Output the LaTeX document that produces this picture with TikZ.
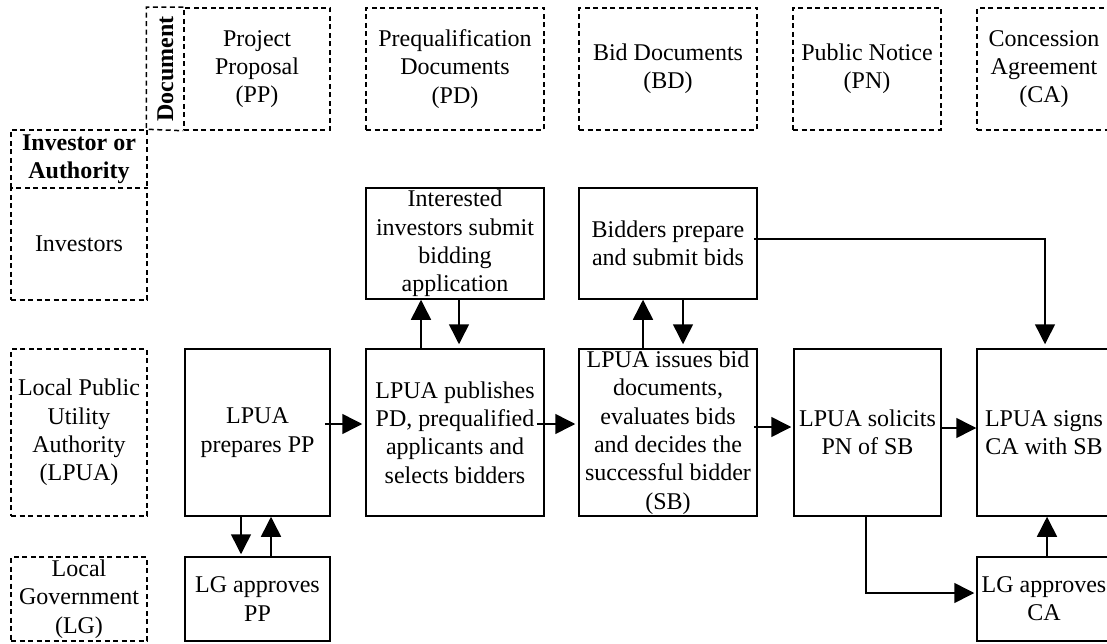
\documentclass[tikz,border=0pt]{standalone}
\usepackage{fontspec}
\setmainfont{Liberation Serif}
\usetikzlibrary{arrows.meta}

\tikzset{
  txt/.style={font=\fontsize{24}{28.3}\selectfont, align=center, inner sep=0pt},
  dashline/.style={line width=1.5pt, dash pattern=on 5pt off 3.5pt},
  hdr/.style={txt, draw, dashline},
  stepbox/.style={txt, draw, line width=1.5pt},
  arr/.style={line width=1.5pt, -{Triangle[length=20pt,width=20pt]}},
}

\begin{document}
\begin{tikzpicture}[x=1pt,y=-1pt]
  \clip (0,0) rectangle (1107,644);

  % column headers: documents
  \node[hdr, minimum width=146pt, minimum height=122pt] (hpp) at (257,69) {Project\\Proposal\\(PP)};
  \node[txt, rotate=90, font=\fontsize{24}{28.3}\selectfont\bfseries] (hdoc) at (165.5,69) {Document};
  \draw[dashline] (hpp.north west) -- ++(-37,0) -- ++(0,122) -- (hpp.south west);
  \node[hdr, minimum width=178pt, minimum height=122pt] (hpd) at (455,69) {Prequalification\\Documents\\(PD)};
  \node[hdr, minimum width=178pt, minimum height=122pt] (hbd) at (668,69) {Bid Documents\\(BD)};
  \node[hdr, minimum width=148pt, minimum height=122pt] (hpn) at (867,69) {Public Notice\\(PN)};
  \node[hdr, minimum width=134pt, minimum height=122pt] (hca) at (1044,69) {Concession\\Agreement\\(CA)};

  % row headers: actors
  \node[hdr, minimum width=136pt, minimum height=112pt] (rinv) at (79,244) {Investors};
  \node[txt, minimum width=136pt, minimum height=58pt,
        font=\fontsize{24}{28.3}\selectfont\bfseries] (hactor) at (79,159) {Investor or\\Authority};
  \draw[dashline] (hactor.south west) -- (hactor.north west) -- (hactor.north east) -- (hactor.south east);
  \node[hdr, minimum width=136pt, minimum height=167pt] (rlpua) at (79,432.5) {Local Public\\Utility\\Authority\\(LPUA)};
  \node[hdr, minimum width=136pt, minimum height=84pt] (rlg) at (79,599) {Local\\Government\\(LG)};

  % process steps
  \node[stepbox, minimum width=178pt, minimum height=111pt] (interest) at (455,243.5) {Interested\\investors submit\\bidding\\application};
  \node[stepbox, minimum width=178pt, minimum height=111pt] (bidders) at (668,243.5) {Bidders prepare\\and submit bids};
  \node[stepbox, minimum width=145pt, minimum height=167pt] (prep) at (257.5,432.5) {LPUA\\prepares PP};
  \node[stepbox, minimum width=178pt, minimum height=167pt] (publ) at (455,432.5) {LPUA publishes\\PD, prequalified\\applicants and\\selects bidders};
  \node[stepbox, minimum width=178pt, minimum height=167pt] (issue) at (668,432.5) {LPUA issues bid\\documents,\\evaluates bids\\and decides the\\successful bidder\\(SB)};
  \node[stepbox, minimum width=147pt, minimum height=167pt] (sol) at (867.5,432.5) {LPUA solicits\\PN of SB};
  \node[stepbox, minimum width=134pt, minimum height=167pt] (sign) at (1044,432.5) {LPUA signs\\CA with SB};
  \node[stepbox, minimum width=145pt, minimum height=84pt] (lgpp) at (257.5,599) {LG approves\\PP};
  \node[stepbox, minimum width=134pt, minimum height=84pt] (lgca) at (1044,599) {LG approves\\CA};

  % main flow
  \draw[arr, shorten <=-6pt, shorten >=3pt] ([yshift=8.5pt]prep.east) -- ([yshift=8.5pt]publ.west);
  \draw[arr, shorten <=-8pt, shorten >=3pt] ([yshift=8.5pt]publ.east) -- ([yshift=8.5pt]issue.west);
  \draw[arr, shorten <=-4pt, shorten >=2pt] ([yshift=5.5pt]issue.east) -- ([yshift=5.5pt]sol.west);
  \draw[arr] ([yshift=4.5pt]sol.east) -- ([yshift=4.5pt]sign.west);

  % approvals and exchanges
  \draw[arr, shorten >=2pt] ([xshift=-16.5pt]prep.south) -- ([xshift=-16.5pt]lgpp.north);
  \draw[arr] ([xshift=13.5pt]lgpp.north) -- ([xshift=13.5pt]prep.south);
  \draw[arr] ([xshift=-34pt]publ.north) -- ([xshift=-34pt]interest.south);
  \draw[arr, shorten >=4pt] ([xshift=4pt]interest.south) -- ([xshift=4pt]publ.north);
  \draw[arr] ([xshift=-25pt]issue.north) -- ([xshift=-25pt]bidders.south);
  \draw[arr, shorten >=4pt] ([xshift=15pt]bidders.south) -- ([xshift=15pt]issue.north);
  \draw[arr, shorten <=-4pt, shorten >=4pt] ([yshift=4.5pt]bidders.east) -| ([xshift=1pt]sign.north);
  \draw[arr, shorten >=2pt] ([xshift=-1.5pt]sol.south) |- ([yshift=6pt]lgca.west);
  \draw[arr] ([xshift=3pt]lgca.north) -- ([xshift=3pt]sign.south);
\end{tikzpicture}
\end{document}
